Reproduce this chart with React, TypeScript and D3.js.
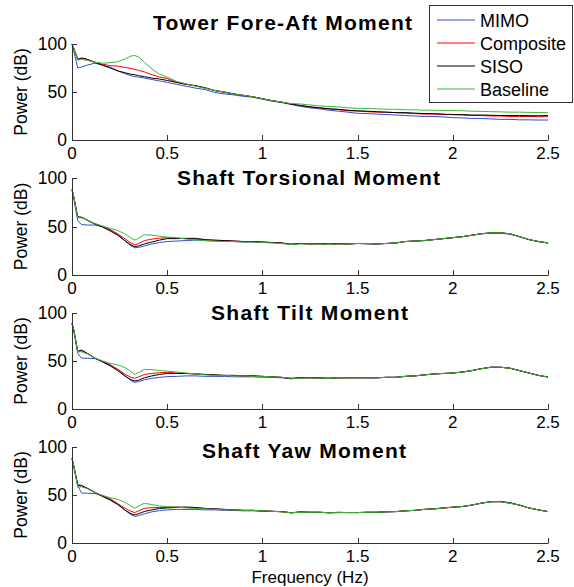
import React from "react";
import * as d3 from "d3";

const FREQ = [0, 0.01, 0.03, 0.05, 0.08, 0.12, 0.16, 0.2, 0.24, 0.28, 0.31, 0.33, 0.35, 0.38, 0.42, 0.46, 0.5,
  0.55, 0.6, 0.65, 0.7, 0.75, 0.8, 0.85, 0.9, 0.95, 1.0,
  1.05, 1.1, 1.15, 1.2, 1.25, 1.3, 1.35, 1.4, 1.45, 1.5,
  1.55, 1.6, 1.65, 1.7, 1.75, 1.8, 1.85, 1.9, 1.95, 2.0,
  2.05, 2.1, 2.15, 2.2, 2.25, 2.3, 2.35, 2.4, 2.45, 2.5];

const SERIES = ["MIMO", "Composite", "SISO", "Baseline"];
const COLORS = ["#2f4fd0", "#ff0000", "#000000", "#3cb83c"];
const TITLES = ["Tower Fore-Aft Moment", "Shaft Torsional Moment", "Shaft Tilt Moment", "Shaft Yaw Moment"];
const X_TICKS = [0, 0.5, 1, 1.5, 2, 2.5];
const X_TICK_LABELS = ["0", "0.5", "1", "1.5", "2", "2.5"];
const Y_TICKS = [0, 50, 100];

// Tower Fore-Aft
const TOWER_MIMO = [100, 92, 75, 76, 78, 80, 78, 76, 72, 69, 67, 66, 65.5, 64.5, 63, 61.5, 60,
  58, 56, 54, 52.5, 49.5, 48, 47, 45.5, 44.5, 42.5,
  40.5, 39, 37, 35, 33.5, 32.5, 31, 30, 29, 27.8,
  27.5, 27, 26.5, 26, 25.5, 25, 24.5, 24.5, 24, 23.3,
  23, 22.5, 22.5, 22, 21.5, 21.5, 21, 21, 20.8, 20.8];
const TOWER_COMP = [100, 95, 84, 85, 84, 81, 79, 77.5, 77, 75.5, 74.5, 73.5, 72.5, 71, 68, 65.5, 64,
  60, 58, 56.5, 54, 51.5, 49.5, 48, 46.5, 45, 43,
  41, 39.5, 37.5, 36, 34.5, 33.5, 32.5, 31.5, 30.5, 30.3,
  29.5, 29, 29, 28.5, 28, 27.5, 27, 27, 26.5, 26.7,
  26, 25.5, 25.5, 25, 25, 24.5, 24.5, 24.5, 24.3, 24.3];
const TOWER_SISO = [100, 95, 84, 85.5, 84, 81, 78, 75, 72, 70, 68.5, 68, 67, 66, 64.5, 63.5, 62,
  60, 58, 56.5, 54.5, 51.5, 50, 48, 46.5, 45, 43,
  41, 39.5, 37.5, 36, 34.5, 33.5, 32.5, 32, 31, 30.3,
  30, 29.5, 29, 28.5, 28.5, 28, 27.5, 27.5, 27, 26.3,
  26.5, 26, 26, 25.8, 25.5, 25.5, 25.5, 25.3, 25.3, 25.5];
const TOWER_BASE = [100, 95, 83, 84, 83, 81, 80, 80.5, 81.5, 84.5, 87.5, 88, 86.5, 81, 74, 68.5, 65.5,
  61, 58.5, 56, 54, 51.5, 50, 48, 46.5, 45, 43,
  41, 39.5, 38, 37.5, 36.5, 35.5, 35, 34.5, 33.5, 33,
  32.8, 32.5, 32, 32, 31.5, 31.5, 31, 31, 30.8, 30.6,
  30.5, 30, 29.8, 29.5, 29.3, 29, 29, 28.8, 28.6, 28.5];

// Shaft Torsional
const TORS_MIMO = [88, 78, 56, 52, 51.5, 51.5, 50, 47, 42, 35, 30, 28, 28.5, 30, 32, 33.5, 34.5,
  35, 35.5, 36, 35.5, 35, 34.5, 34.5, 34, 34, 33.5,
  33.5, 33, 31.5, 32.5, 32, 32, 31.5, 32, 32, 32.5,
  32.5, 32, 32.5, 33, 34.5, 35, 35.5, 36.5, 37.5, 38.5,
  39.5, 41, 42.5, 43, 43, 42, 39.5, 36.5, 34.5, 33];
const TORS_COMP = [88, 80, 59.5, 59.5, 56.5, 53, 50, 46.5, 42.5, 37, 33, 31, 32.5, 35.5, 37, 38, 38.5,
  38, 37.5, 37, 36, 35.5, 35.5, 35, 34.5, 34.5, 34,
  33.5, 33, 32, 32.5, 32, 32, 31.5, 32, 32, 32.5,
  32.5, 32, 32.5, 33, 34.5, 35, 35.5, 36.5, 37.5, 38.5,
  39.5, 41, 42.5, 43.5, 43.5, 42.5, 39.5, 36.5, 34.5, 33];
const TORS_SISO = [88, 80, 60, 59.5, 56.5, 52.5, 49.5, 45.5, 41, 35, 31, 29.2, 30, 32, 34, 36, 37.5,
  37.5, 37.8, 37.8, 36.5, 36, 35.5, 35, 34.5, 34.5, 34,
  33.5, 33, 31.5, 32.5, 32, 32.5, 32, 32.5, 32, 32.5,
  32, 32, 32.5, 33, 34.5, 35, 35.5, 36.5, 37.5, 38.5,
  39.5, 41, 42.5, 43.5, 43.5, 42.5, 39.5, 36.5, 34.5, 33];
const TORS_BASE = [88, 80, 59, 59, 56.5, 53, 50.5, 48, 46, 42, 38, 36, 38, 41.5, 41, 40, 39,
  38.5, 37, 36, 35.5, 35, 34.5, 34.5, 34, 34, 33.5,
  33, 32.5, 31.5, 32, 32, 32, 31.5, 32, 32, 32.5,
  32.5, 32, 32.5, 33, 34.5, 35, 35.5, 36.5, 37.5, 38.5,
  39.5, 41, 42.5, 43.5, 43.5, 42.5, 39.5, 36.5, 34.5, 33];

// Shaft Tilt
const TILT_MIMO = [89, 80, 58, 53, 52.8, 52.5, 50, 46, 41, 34.5, 29.5, 27.8, 28.5, 30.5, 32, 33, 33.7,
  34, 34.5, 34.5, 34, 34, 34, 33.5, 33.5, 33.5, 33,
  33, 32.5, 31.5, 32.5, 32.5, 32, 32, 32.5, 32.5, 32.5,
  32.5, 32.5, 33, 33, 34, 34.5, 35.5, 36.5, 37, 37.5,
  38.5, 40, 42, 43.5, 43.5, 42.5, 40, 37.5, 35, 33.3];
const TILT_COMP = [89, 82, 60, 60.5, 58, 53, 49.5, 46, 41.5, 36, 33, 32, 33.5, 36, 37, 37.8, 38.2,
  37.5, 37, 36.5, 36, 35.5, 35, 35, 34.5, 34.5, 34,
  33.5, 33, 31.5, 32.5, 32.5, 32, 32, 32.5, 32.5, 32.5,
  32.5, 32.5, 33, 33, 34, 34.5, 35.5, 36.5, 37, 37.5,
  38.5, 40, 42, 43.5, 43.5, 42.5, 40, 37.5, 35, 33.3];
const TILT_SISO = [89, 82, 60, 61.5, 58, 53, 49, 45, 40, 34, 30.5, 29.2, 30, 32.5, 34.5, 36, 37,
  37, 37, 36.5, 36, 35.5, 35, 35, 34.5, 34.5, 34,
  33.5, 33, 32, 32.5, 32.5, 32.5, 32, 32.5, 32.5, 32.5,
  32.5, 32.5, 33, 33, 34, 34.5, 35.5, 36.5, 37, 37.5,
  38.5, 40, 42, 43.5, 43.5, 42.5, 40, 37.5, 35, 33.3];
const TILT_BASE = [89, 82, 59.5, 59.7, 57.5, 53, 50, 47.6, 46, 43, 39, 36.1, 38, 41.3, 41, 40, 39.5,
  38.5, 37.5, 36.5, 35.5, 35, 35, 34.5, 34.5, 34, 34,
  33.5, 33, 32, 32, 32.5, 32, 32, 32.5, 32.5, 32.5,
  32.5, 32.5, 33, 33, 34, 34.5, 35.5, 36.5, 37, 37.5,
  38.5, 40, 42, 43.5, 43.5, 42.5, 40, 37.5, 35, 33.3];

// Shaft Yaw
const YAW_MIMO = [88, 78, 60, 52, 51.8, 51.5, 49.5, 46, 41, 34, 29.5, 27.6, 28.5, 30.4, 32.5, 33.8, 34.5,
  35, 35, 35, 34.5, 34.5, 34, 34, 33.5, 33.5, 33,
  33, 32.7, 31.5, 32, 32, 32, 31.5, 31.7, 31.7, 31.7,
  32, 32, 32.5, 32.7, 33.5, 34, 35, 35.5, 36.5, 37.3,
  38, 39.5, 41.5, 43, 43, 41.5, 39.5, 36.5, 34.5, 32.7];
const YAW_COMP = [88, 80, 60, 59.5, 57, 53, 49, 45.5, 41, 36, 33, 31.7, 33.5, 36.2, 36.8, 37, 37.2,
  37.5, 37, 36.5, 36, 35.5, 35, 34.5, 34, 34, 33.5,
  33, 32.5, 31.5, 32, 32, 32, 31.5, 31.7, 31.7, 31.7,
  32, 32, 32.5, 32.7, 33.5, 34, 35, 35.5, 36.5, 37.3,
  38, 39.5, 41.5, 43, 43, 41.5, 39.5, 36.5, 34.5, 32.7];
const YAW_SISO = [88, 80, 60.4, 60, 57, 52.5, 48.5, 44.8, 40, 34, 30.5, 29.3, 30.5, 32.8, 34.5, 36, 36.5,
  37, 37.5, 37, 36, 35.5, 35, 34.5, 34, 34, 33.5,
  33, 32.7, 31.5, 32.5, 32, 32, 31.5, 32, 31.7, 31.7,
  32, 32, 32.5, 32.7, 33.5, 34, 35, 35.5, 36.5, 37.3,
  38, 39.5, 41.5, 43, 43.3, 42, 39.5, 36.5, 34.5, 32.7];
const YAW_BASE = [88, 80, 58, 58.5, 56.5, 52.5, 49.5, 47.2, 45.5, 42, 38.5, 36.2, 38.5, 41.4, 40, 38.5, 37.9,
  37.5, 36.5, 36, 35.5, 35, 34.5, 34.5, 34, 34, 33.5,
  33, 32.5, 31.5, 32, 32, 32, 31.5, 31.7, 31.7, 31.7,
  32, 32, 32.5, 32.7, 33.5, 34, 35, 35.5, 36.5, 37.3,
  38, 39.5, 41.5, 43, 43, 41.5, 39.5, 36.5, 34.5, 32.7];

const PANEL_DATA = [
  [TOWER_MIMO, TOWER_COMP, TOWER_SISO, TOWER_BASE],
  [TORS_MIMO, TORS_COMP, TORS_SISO, TORS_BASE],
  [TILT_MIMO, TILT_COMP, TILT_SISO, TILT_BASE],
  [YAW_MIMO, YAW_COMP, YAW_SISO, YAW_BASE],
];

const W = 574;
const H = 587;
const X0 = 72;
const X1 = 548;
const PANELS = [
  { top: 44, bottom: 140, titleY: 30, titleX: 282.5, titleW: 259 },
  { top: 178, bottom: 275, titleY: 185, titleX: 308.5, titleW: 263 },
  { top: 313, bottom: 409, titleY: 320, titleX: 309.5, titleW: 197 },
  { top: 447, bottom: 543, titleY: 458, titleX: 304, titleW: 204 },
];
const FONT = "'Liberation Sans', Arial, Helvetica, sans-serif";
const AXIS = "#333";

function Panel({ idx }: { idx: number }) {
  const p = PANELS[idx];
  const x = d3.scaleLinear().domain([0, 2.5]).range([X0, X1]);
  const y = d3.scaleLinear().domain([0, 100]).range([p.bottom, p.top]);
  const line = d3.line<number>().x((_, i) => x(FREQ[i])).y((v) => y(v));
  const data = PANEL_DATA[idx];
  return (
    <g>
      {data.map((s, k) => (
        <path key={k} d={line(s) || ""} fill="none" stroke={COLORS[k]} strokeWidth={1} />
      ))}
      <line x1={X0 + 0.5} x2={X0 + 0.5} y1={y(100)} y2={p.bottom + 0.5} stroke={AXIS} />
      <line x1={X0} x2={X1 + 0.5} y1={p.bottom + 0.5} y2={p.bottom + 0.5} stroke={AXIS} />
      {X_TICKS.map((t, i) => (
        <g key={"x" + i}>
          <line x1={Math.round(x(t)) + 0.5} x2={Math.round(x(t)) + 0.5} y1={p.bottom} y2={p.bottom - 5} stroke={AXIS} />
          <text x={x(t)} y={p.bottom + 19} textAnchor="middle" fontSize={17} fontFamily={FONT} fill="#000">
            {X_TICK_LABELS[i]}
          </text>
        </g>
      ))}
      {Y_TICKS.map((t, i) => (
        <g key={"y" + i}>
          <line x1={X0} x2={X0 + 5} y1={Math.round(y(t)) + 0.5} y2={Math.round(y(t)) + 0.5} stroke={AXIS} />
          <text x={X0 - 5} y={y(t) + 6} textAnchor="end" fontSize={17.5} fontFamily={FONT} fill="#000">
            {t}
          </text>
        </g>
      ))}
      <text
        transform={`translate(27,${(p.top + p.bottom) / 2}) rotate(-90)`}
        textAnchor="middle"
        fontSize={17.5}
        fontFamily={FONT}
        fill="#000"
      >
        Power (dB)
      </text>
      <text
        x={p.titleX}
        y={p.titleY}
        textAnchor="middle"
        fontSize={21}
        fontWeight="bold"
        fontFamily={FONT}
        fill="#000"
        textLength={p.titleW}
        lengthAdjust="spacing"
      >
        {TITLES[idx]}
      </text>
    </g>
  );
}

function Legend() {
  const bx = 429.5, by = 5.5, bw = 143, bh = 97;
  return (
    <g>
      <rect x={bx} y={by} width={bw} height={bh} fill="#fff" stroke={AXIS} strokeWidth={1} />
      {SERIES.map((s, i) => {
        const yy = 20 + i * 23;
        return (
          <g key={s}>
            <line x1={437} x2={475} y1={yy} y2={yy} stroke={COLORS[i]} strokeWidth={1.2} />
            <text x={480} y={yy + 6.5} fontSize={18} fontFamily={FONT} fill="#000">{s}</text>
          </g>
        );
      })}
    </g>
  );
}

export default function App() {
  return (
    <svg width={W} height={H} style={{ position: "absolute", left: 0, top: 0, background: "#fff" }}>
      <rect x={0} y={0} width={W} height={H} fill="#fff" />
      {PANELS.map((_, i) => (
        <Panel key={i} idx={i} />
      ))}
      <Legend />
      <text x={(X0 + X1) / 2} y={583} textAnchor="middle" fontSize={17} fontFamily={FONT} fill="#000">
        Frequency (Hz)
      </text>
    </svg>
  );
}
